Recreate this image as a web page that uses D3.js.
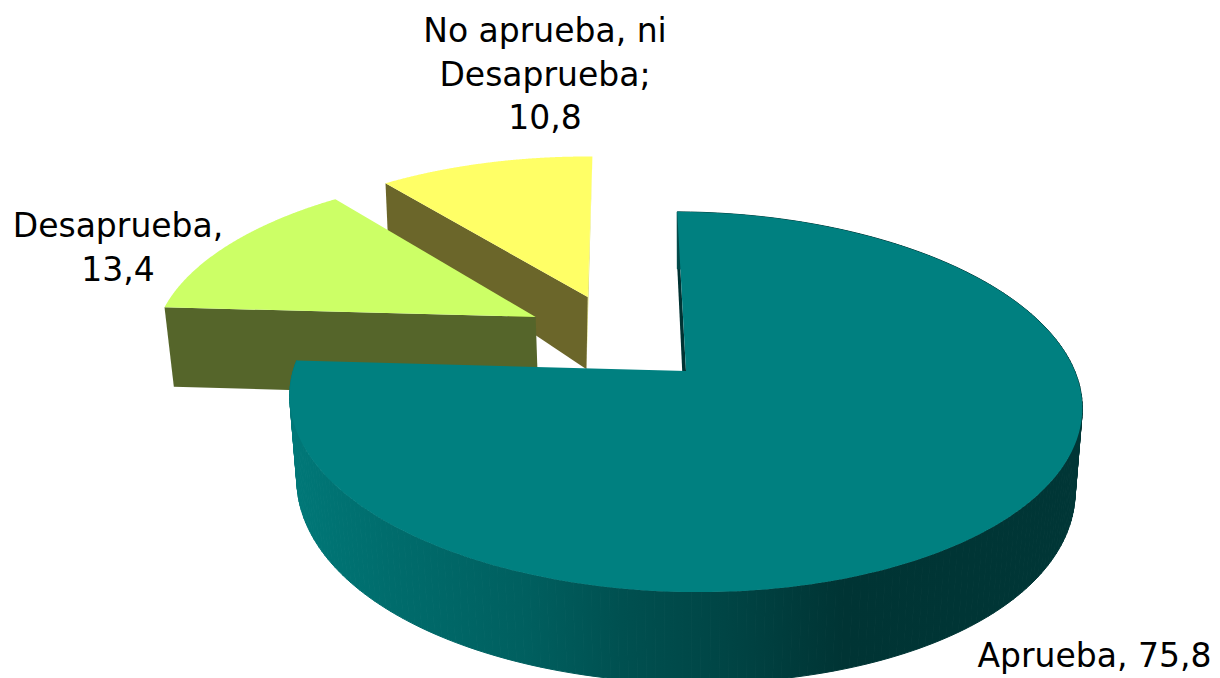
<!DOCTYPE html>
<html><head><meta charset="utf-8">
<style>html,body{margin:0;padding:0;background:#fff;overflow:hidden}svg{display:block}</style>
<script src="https://cdn.jsdelivr.net/npm/d3@7/dist/d3.min.js"></script>
</head><body><svg id="c" width="1220" height="678"></svg>
<script>
// Data
const categories = ["Aprueba", "Desaprueba", "No aprueba, ni Desaprueba"];
const values = [75.8, 13.4, 10.8];
const labelLines = [["Aprueba, 75,8"], ["Desaprueba,", "13,4"], ["No aprueba, ni", "Desaprueba;", "10,8"]];

const topColors = ["#008080", "#CCFF66", "#FFFF66"];
const wallColors = [null, "#55652A", "#6B662A"];
const explodeDist = [0, 0.498, 0.497];
const explodeBearingDeg = [0, 306, 327.3];
const bottomShift = [[0, 0], [0, 6], [-3, 1]];
const labelAnchor = [[1094.5, 667], [118, 237], [545, 42]];
const lineGap = 43.5;

const W = 1220, H = 678;
const svg = d3.select("#c").attr("viewBox", `0 0 ${W} ${H}`);
const defs = svg.append("defs");

// perspective planes for the top and bottom faces of the disc
const planes = {
  top: {x0: 686, y0: 371, b: 391, a: 185, kx: .163, ky: .163, t: 6, bottom: false},
  bot: {x0: 686, y0: 451, b: 384, a: 204, kx: .163, ky: .121, t: 6, bottom: true}
};
const rad = d => d * Math.PI / 180;
function proj(p, u, v, i) {
  const s = p.bottom ? bottomShift[i] : [0, 0];
  return [p.x0 + s[0] + p.b * u / (1 - p.kx * v),
          p.y0 + s[1] + (p.a * v + p.t * u) / (1 - p.ky * v)];
}
const pie = d3.pie().sort(null).startAngle(rad(-1.5)).endAngle(rad(358.5));
const arcs = pie(values);
const line = d3.line();

function offset(i) {
  const br = rad(explodeBearingDeg[i]);
  return [Math.sin(br) * explodeDist[i], -Math.cos(br) * explodeDist[i]];
}
function edgePt(i, plane, a) {
  const [ou, ov] = offset(i);
  return proj(plane, ou + Math.sin(a), ov - Math.cos(a), i);
}
function rim(i, plane, a0, a1) {
  return d3.range(0, 241).map(n => edgePt(i, plane, a0 + (a1 - a0) * n / 240));
}
function apex(i, plane) { const [ou, ov] = offset(i); return proj(plane, ou, ov, i); }

const grad = defs.append("linearGradient").attr("id", "wallGrad")
  .attr("gradientUnits", "userSpaceOnUse").attr("x1", 290).attr("x2", 1080).attr("y1", 0).attr("y2", 0);
[[0, "#007878"], [.13, "#006C6C"], [.3, "#005F5F"], [.42, "#005050"], [.55, "#004545"], [.7, "#003434"], [1, "#003636"]]
  .forEach(([o, c]) => grad.append("stop").attr("offset", o).attr("stop-color", c));

function poly(pts, fill) {
  return svg.append("path").attr("d", line(pts) + "Z").attr("fill", fill);
}
function cutWall(i, a, fill) {
  poly([apex(i, planes.top), edgePt(i, planes.top, a), edgePt(i, planes.bot, a), apex(i, planes.bot)], fill);
}
function topFace(i) {
  const d = arcs[i];
  poly([apex(i, planes.top), ...rim(i, planes.top, d.startAngle, d.endAngle)], topColors[i]);
}

// No aprueba (rear)
cutWall(2, arcs[2].endAngle, "#DDDD55");
cutWall(2, arcs[2].startAngle, wallColors[2]);
topFace(2);
// Desaprueba
cutWall(1, arcs[1].startAngle, wallColors[1]);
topFace(1);
// Aprueba: inner cut, outer wall as extruded strips, top
cutWall(0, arcs[0].startAngle, "#003333");
{
  const d = arcs[0];
  const t = rim(0, planes.top, d.startAngle, d.endAngle), b = rim(0, planes.bot, d.startAngle, d.endAngle);
  d3.range(0, t.length - 1).forEach(n => {
    poly([t[n], t[n + 1], b[n + 1], b[n]], "url(#wallGrad)")
      .attr("stroke", "url(#wallGrad)").attr("stroke-width", 1);
  });
}
topFace(0);

// labels
labelLines.forEach((lines, i) => {
  const txt = svg.append("text").attr("text-anchor", "middle")
    .attr("font-family", "'DejaVu Sans', sans-serif").attr("font-size", 33).attr("fill", "#000");
  lines.forEach((l, j) => txt.append("tspan").attr("x", labelAnchor[i][0]).attr("y", labelAnchor[i][1] + j * lineGap).text(l));
});
</script></body></html>
